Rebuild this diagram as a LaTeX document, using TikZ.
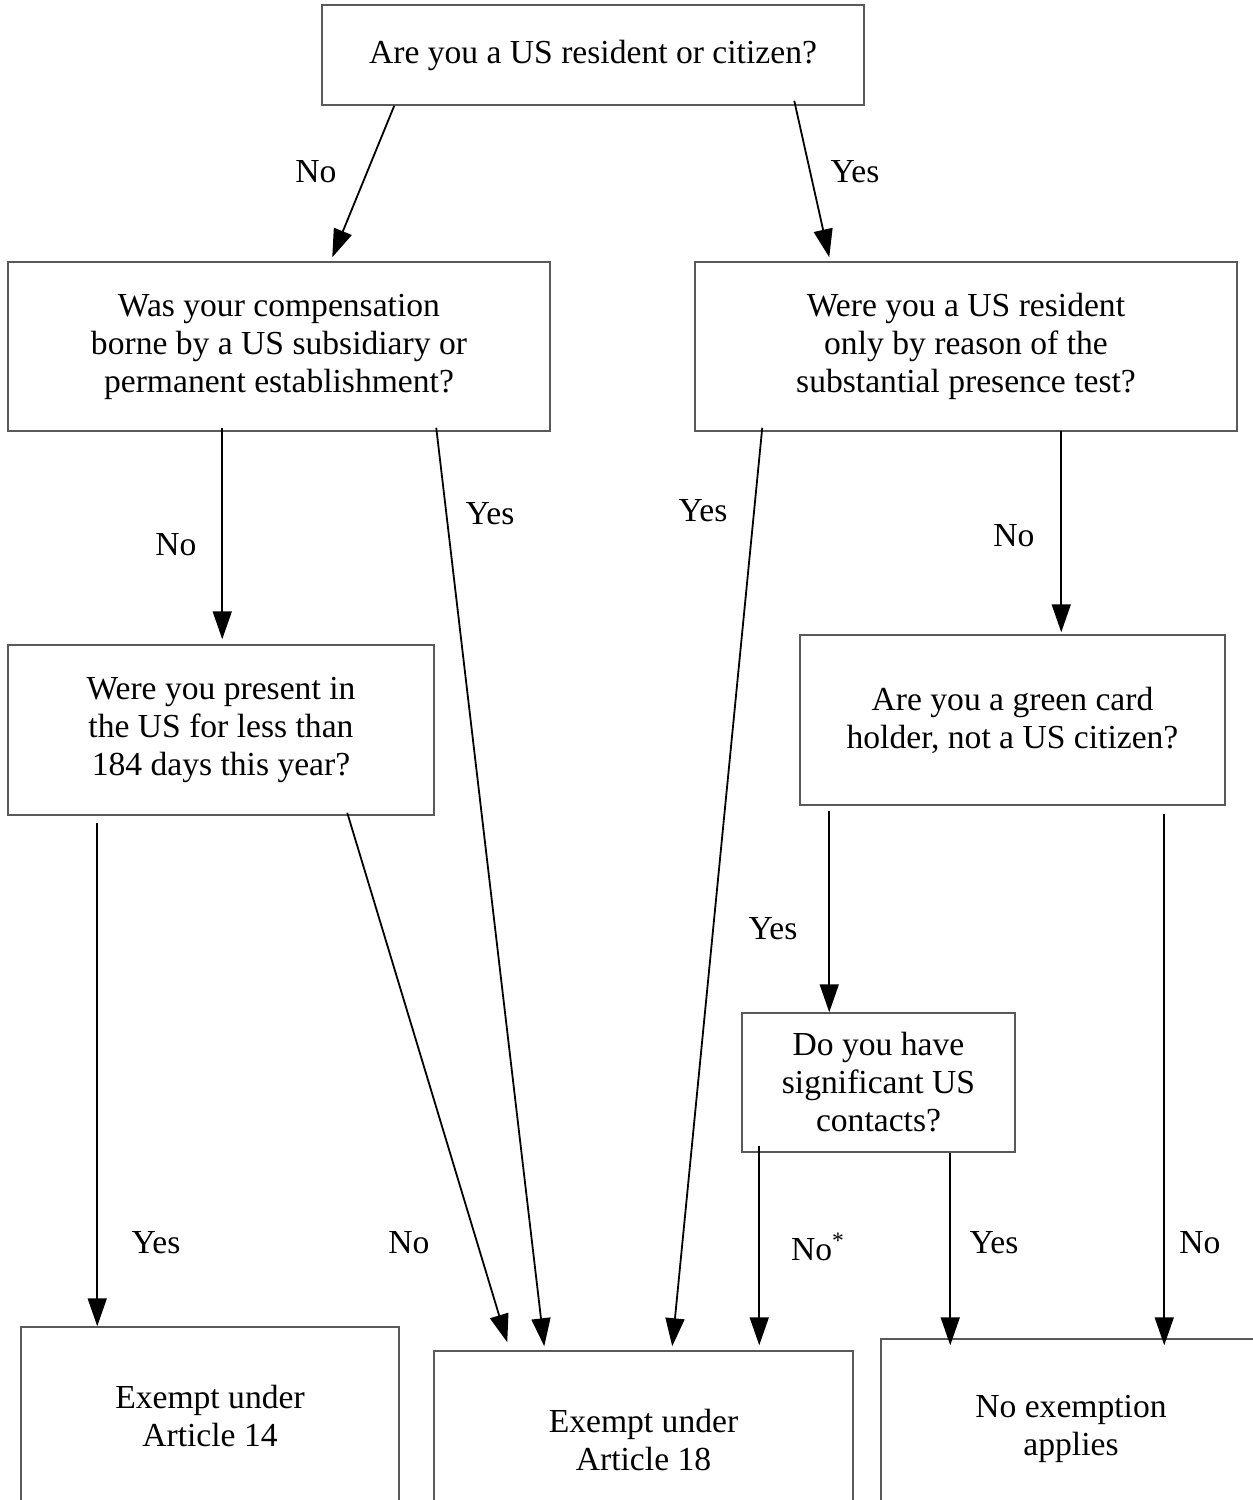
\documentclass[tikz,border=0pt]{standalone}
\usepackage{fontspec}
\setmainfont{Liberation Serif}
\usepackage{tikz}
\usetikzlibrary{arrows.meta}

\begin{document}
\begin{tikzpicture}[
      x=0.5pt, y=-0.5pt,
      question/.style={draw=black!65, line width=0.75pt, inner sep=0pt, align=center, font=\fontsize{16.8}{19}\selectfont},
      result/.style={question},
      answer/.style={font=\fontsize{16.8}{19}\selectfont, inner sep=0pt},
      arrow/.style={-{Triangle[length=14pt, width=9.5pt]}, line width=0.9pt}
    ]
    \path[use as bounding box, clip] (0,0) rectangle (1253,1500);

    \node[question, minimum width=271pt, minimum height=50pt] (q1) at (593,55) {Are you a US resident or citizen?};
    \node[question, minimum width=271pt, minimum height=84.5pt] (qa) at (279,346.5) {Was your compensation\\borne by a US subsidiary or\\permanent establishment?};
    \node[question, minimum width=271pt, minimum height=84.5pt] (qb) at (966,346.5) {Were you a US resident\\only by reason of the\\substantial presence test?};
    \node[question, minimum width=213pt, minimum height=85pt] (qc) at (221,730) {Were you present in\\the US for less than\\184 days this year?};
    \node[question, minimum width=212.5pt, minimum height=85pt] (qd) at (1012.5,720) {Are you a green card\\holder, not a US citizen?};
    \node[question, minimum width=136.5pt, minimum height=69.5pt] (qe) at (878.5,1082.5) {Do you have\\significant US\\contacts?};
    \node[result, minimum width=189pt, minimum height=89pt] (r14) at (210,1416) {Exempt under\\Article 14};
    \node[result, minimum width=209.5pt, minimum height=89pt] (r18) at (643.5,1440) {Exempt under\\Article 18};
    \node[result, minimum width=190pt, minimum height=90pt] (rno) at (1071,1429) {No exemption\\applies};

    \draw[arrow] ([xshift=36.5pt]q1.south west) -- ([xshift=162.5pt, yshift=2pt]qa.north west);
    \draw[arrow] ([xshift=236.5pt, yshift=2.5pt]q1.south west) -- ([xshift=67.5pt, yshift=2pt]qb.north west);
    \draw[arrow] ([xshift=107.5pt, yshift=2pt]qa.south west) -- ([xshift=107.5pt, yshift=2.5pt]qc.north west);
    \draw[arrow] ([xshift=214.5pt, yshift=2pt]qa.south west) -- ([xshift=55.5pt, yshift=2pt]r18.north west);
    \draw[arrow] ([xshift=34pt, yshift=2pt]qb.south west) -- ([xshift=119.5pt, yshift=2pt]r18.north west);
    \draw[arrow] ([xshift=183.5pt, yshift=0.5pt]qb.south west) -- ([xshift=131pt, yshift=1pt]qd.north west);
    \draw[arrow] ([xshift=45pt, yshift=-3.5pt]qc.south west) -- ([xshift=38.5pt]r14.north west);
    \draw[arrow] ([xshift=170pt, yshift=1.5pt]qc.south west) -- ([xshift=37pt, yshift=4pt]r18.north west);
    \draw[arrow] ([xshift=15pt, yshift=-2.5pt]qd.south west) -- ([xshift=44pt]qe.north west);
    \draw[arrow] ([xshift=182.5pt, yshift=-4pt]qd.south west) -- ([xshift=142pt, yshift=-3.5pt]rno.north west);
    \draw[arrow] ([xshift=9pt, yshift=3.5pt]qe.south west) -- ([xshift=163pt, yshift=2.5pt]r18.north west);
    \draw[arrow] ([xshift=104.5pt]qe.south west) -- ([xshift=35pt, yshift=-3.5pt]rno.north west);

    \node[answer] (l1) at (316,172) {No};
    \node[answer] (l2) at (855,172) {Yes};
    \node[answer] (l3) at (176,545) {No};
    \node[answer] (l4) at (490,514) {Yes};
    \node[answer] (l5) at (703,511) {Yes};
    \node[answer] (l6) at (1014,536) {No};
    \node[answer] (l7) at (773,929) {Yes};
    \node[answer] (l8) at (156,1243) {Yes};
    \node[answer] (l9) at (409,1243) {No};
    \node[answer] (l10) at (818,1247) {No\textsuperscript{*}};
    \node[answer] (l11) at (994,1243) {Yes};
    \node[answer] (l12) at (1200,1243) {No};
  \end{tikzpicture}
\end{document}
